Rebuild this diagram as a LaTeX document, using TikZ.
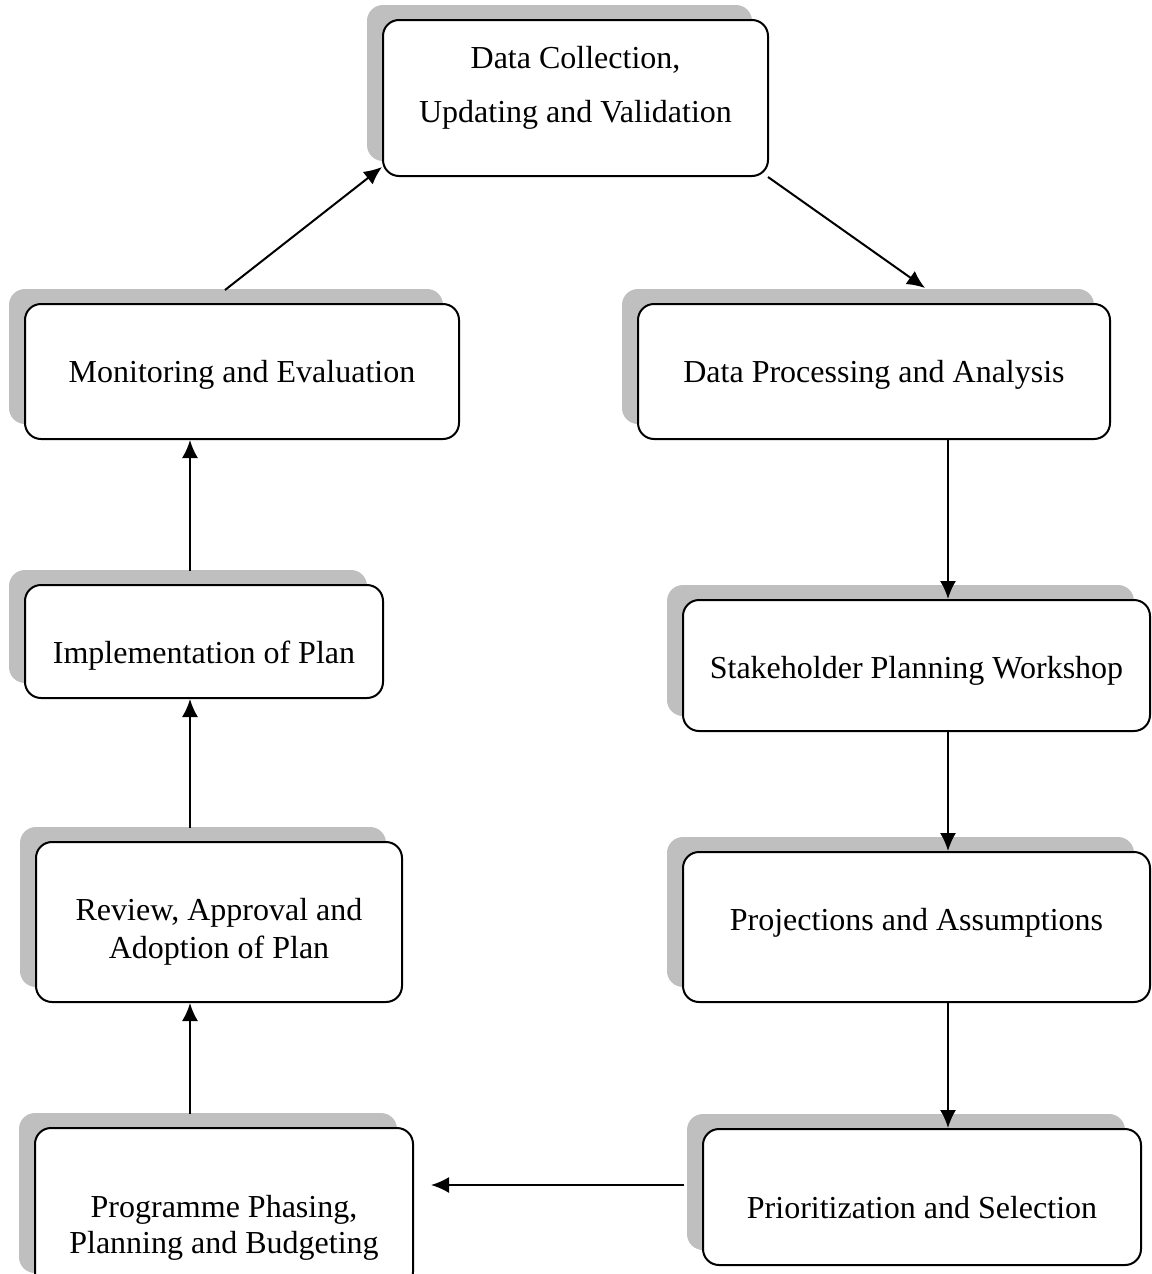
\documentclass[tikz,border=0pt]{standalone}
\usepackage{fontspec}
\setmainfont{Liberation Serif}
\usetikzlibrary{positioning,arrows.meta,shadows}
\tikzset{%
stage/.style={draw,line width=1pt,fill=white,rounded corners=8pt,inner sep=0pt,
  general shadow={fill=black!25,shadow xshift=-8pt,shadow yshift=7.5pt}},
stagetext/.style={anchor=base,align=center,inner sep=0pt,font=\fontsize{16}{19}\selectfont},
flow/.style={line width=1pt,-{Latex[length=9pt,width=8pt]}}
}
\begin{document}
\begin{tikzpicture}[x=0.5pt,y=-0.5pt]

  \useasboundingbox (0,0) rectangle (1151,1274);
  \clip (0,0) rectangle (1151,1274);

  \node[stage,minimum width=192.5pt,minimum height=78pt] (dc) at (575.5,98) {};
  \node[stage,minimum width=217pt,minimum height=67.5pt] (mon) at (242,371.5) {};
  \node[stage,minimum width=236pt,minimum height=67.5pt] (dp) at (874,371.5) {};
  \node[stage,minimum width=179pt,minimum height=56.5pt] (impl) at (204,641.5) {};
  \node[stage,minimum width=233.5pt,minimum height=65.5pt] (sh) at (916.5,665.5) {};
  \node[stage,minimum width=183pt,minimum height=80pt] (rev) at (219,922) {};
  \node[stage,minimum width=233.5pt,minimum height=75pt] (proj) at (916.5,927) {};
  \node[stage,minimum width=189pt,minimum height=80pt] (prog) at (224,1208) {};
  \node[stage,minimum width=219pt,minimum height=68pt] (pri) at (922,1197) {};

  \node[stagetext,font=\fontsize{16}{27}\selectfont] (dc-t) at (575.5,122) {Data Collection,\\Updating and Validation};
  \node[stagetext] (mon-t) at (242,382) {Monitoring and Evaluation};
  \node[stagetext] (dp-t) at (874,382) {Data Processing and Analysis};
  \node[stagetext] (impl-t) at (204,663) {Implementation of Plan};
  \node[stagetext] (sh-t) at (916.5,678) {Stakeholder Planning Workshop};
  \node[stagetext] (rev-t) at (219,958) {Review, Approval and\\Adoption of Plan};
  \node[stagetext] (proj-t) at (916.5,930) {Projections and Assumptions};
  \node[stagetext,font=\fontsize{16}{18}\selectfont] (prog-t) at (224,1253) {Programme Phasing,\\Planning and Budgeting};
  \node[stagetext] (pri-t) at (922,1218) {Prioritization and Selection};

  \coordinate (rcol) at (948,0);
  \coordinate (lcol) at (190,0);
  \coordinate (pri-out) at ([shift={(-18,-12)}]pri.west);

  \draw[flow] ([shift={(-17,-13)}]mon.north) -- ([shift={(0,-10)}]dc.south west);
  \draw[flow] ([shift={(-1,0)}]dc.south east) -- ([shift={(51,-15)}]dp.north);
  \draw[flow] (dp.south -| rcol) -- (sh.north -| rcol);
  \draw[flow] (sh.south -| rcol) -- (proj.north -| rcol);
  \draw[flow] (proj.south -| rcol) -- (pri.north -| rcol);
  \draw[flow] (pri-out) -- ([shift={(17,-23)}]prog.east);
  \draw[flow] ([shift={(0,-13)}]prog.north -| lcol) -- (rev.south -| lcol);
  \draw[flow] ([shift={(0,-13)}]rev.north -| lcol) -- (impl.south -| lcol);
  \draw[flow] ([shift={(0,-13)}]impl.north -| lcol) -- (mon.south -| lcol);

\end{tikzpicture}
\end{document}
